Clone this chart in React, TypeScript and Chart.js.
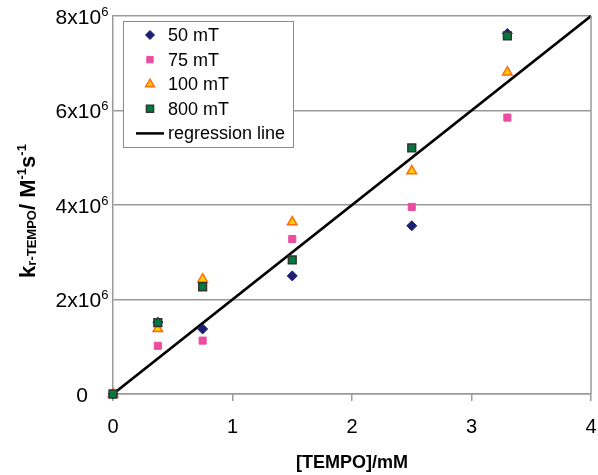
import React, { useEffect, useRef } from 'react';
import { Chart, registerables } from 'chart.js';
import { drawPoint } from 'chart.js/helpers';

Chart.register(...registerables);

// ---- data ----
const xValues = [0, 0.375, 0.75, 1.5, 2.5, 3.3];
const series50mT = [0, 1.52e6, 1.376e6, 2.5e6, 3.56e6, 7.63e6];
const series75mT = [0, 1.02e6, 1.13e6, 3.28e6, 3.96e6, 5.85e6];
const series100mT = [0, 1.38e6, 2.43e6, 3.64e6, 4.72e6, 6.81e6];
const series800mT = [0, 1.51e6, 2.27e6, 2.84e6, 5.21e6, 7.58e6];
const regressionX = [0, 4];
const regressionY = [0, 8e6];

const seriesLabels = ['50 mT', '75 mT', '100 mT', '800 mT', 'regression line'];
const xTicks = [0, 1, 2, 3, 4];
const xTickLabels = ['0', '1', '2', '3', '4'];
const yTicks = [0, 2e6, 4e6, 6e6, 8e6];
const yTickMain = ['0', '2x10', '4x10', '6x10', '8x10'];
const yTickSup = ['', '6', '6', '6', '6'];
const xTitle = '[TEMPO]/mM';

const FONT = "'Liberation Sans', Arial, Helvetica, sans-serif";
const GRAY = '#9a9a9a';

const styles = [
  { pointStyle: 'rectRot', radius: 5, bg: '#1b2072', border: '#1b2072', bw: 1 },
  { pointStyle: 'rect', radius: 5, bg: '#ec4c9f', border: '#ec4c9f', bw: 1 },
  { pointStyle: 'triangle', radius: 5.5, bg: '#ffd000', border: '#ff6a10', bw: 1.5 },
  { pointStyle: 'rect', radius: 5.5, bg: '#007a3d', border: '#333333', bw: 1.5 },
];
const legendRadius = [4.5, 4.5, 5, 5];

const toPts = (xs: number[], ys: number[]) => xs.map((x, i) => ({ x, y: ys[i] }));

const textPlugin = {
  id: 'customText',
  afterDraw(chart: any) {
    const { ctx, chartArea, scales } = chart;
    const xs = scales.x;
    const ys = scales.y;
    ctx.save();

    // right border
    ctx.strokeStyle = GRAY;
    ctx.lineWidth = 1.5;
    ctx.beginPath();
    ctx.moveTo(chartArea.right, chartArea.top);
    ctx.lineTo(chartArea.right, chartArea.bottom);
    ctx.stroke();

    ctx.fillStyle = '#000';
    // x tick labels
    ctx.font = `20px ${FONT}`;
    ctx.textAlign = 'center';
    ctx.textBaseline = 'alphabetic';
    xTicks.forEach((v, i) => {
      ctx.fillText(xTickLabels[i], xs.getPixelForValue(v), chartArea.bottom + 39);
    });

    // x title
    ctx.font = `bold 18px ${FONT}`;
    ctx.fillText(xTitle, (chartArea.left + chartArea.right) / 2, chartArea.bottom + 74);

    // y tick labels
    const cx = chartArea.left - 31;
    yTicks.forEach((v, i) => {
      const py = ys.getPixelForValue(v);
      ctx.font = `21px ${FONT}`;
      const wm = ctx.measureText(yTickMain[i]).width;
      ctx.font = `13px ${FONT}`;
      const wsup = yTickSup[i] ? ctx.measureText(yTickSup[i]).width : 0;
      const start = cx - (wm + wsup) / 2;
      ctx.textAlign = 'left';
      ctx.font = `21px ${FONT}`;
      ctx.fillText(yTickMain[i], start, py + 7.5);
      if (yTickSup[i]) {
        ctx.font = `13px ${FONT}`;
        ctx.fillText(yTickSup[i], start + wm, py - 0.5);
      }
    });

    // y title (rotated with sub/superscripts)
    const segs = [
      { t: 'k', size: 22, dy: 0 },
      { t: 'r-TEMPO', size: 13, dy: 1 },
      { t: '/ M', size: 22, dy: 0 },
      { t: '-1', size: 13, dy: -9 },
      { t: 's', size: 22, dy: 0 },
      { t: '-1', size: 13, dy: -9 },
    ];
    let total = 0;
    segs.forEach((s) => {
      ctx.font = `bold ${s.size}px ${FONT}`;
      total += ctx.measureText(s.t).width;
    });
    ctx.save();
    ctx.translate(35, 211);
    ctx.rotate(-Math.PI / 2);
    let pos = -total / 2;
    ctx.textAlign = 'left';
    segs.forEach((s) => {
      ctx.font = `bold ${s.size}px ${FONT}`;
      ctx.fillText(s.t, pos, s.dy);
      pos += ctx.measureText(s.t).width;
    });
    ctx.restore();

    // legend
    const lx = 123.5, ly = 21.5, lw = 170, lh = 126;
    ctx.fillStyle = '#fff';
    ctx.fillRect(lx, ly, lw, lh);
    ctx.strokeStyle = '#8a8a8a';
    ctx.lineWidth = 1;
    ctx.strokeRect(lx, ly, lw, lh);
    const rowY = (i: number) => 35 + i * 24.6;
    styles.forEach((s, i) => {
      ctx.fillStyle = s.bg;
      ctx.strokeStyle = s.border;
      ctx.lineWidth = s.bw;
      drawPoint(ctx, { pointStyle: s.pointStyle, radius: legendRadius[i], rotation: 0, borderWidth: s.bw } as any, 150, rowY(i));
    });
    ctx.strokeStyle = '#000';
    ctx.lineWidth = 2.5;
    ctx.beginPath();
    ctx.moveTo(136, rowY(4));
    ctx.lineTo(164, rowY(4));
    ctx.stroke();
    ctx.fillStyle = '#000';
    ctx.font = `18px ${FONT}`;
    ctx.textAlign = 'left';
    ctx.textBaseline = 'middle';
    seriesLabels.forEach((lab, i) => {
      ctx.fillText(lab, 168, rowY(i) + 1);
    });
    ctx.restore();
  },
};

export default function App() {
  const ref = useRef<HTMLCanvasElement | null>(null);
  useEffect(() => {
    document.body.style.margin = '0';
    const canvas = ref.current;
    if (!canvas) return;
    const seriesData = [series50mT, series75mT, series100mT, series800mT];
    const orders = [4, 3, 2, 1];
    const datasets: any[] = seriesData.map((ys, i) => ({
      label: seriesLabels[i],
      data: toPts(xValues, ys),
      pointStyle: styles[i].pointStyle,
      pointRadius: styles[i].radius,
      backgroundColor: styles[i].bg,
      borderColor: styles[i].border,
      borderWidth: styles[i].bw,
      pointBorderWidth: styles[i].bw,
      showLine: false,
      clip: false,
      order: orders[i],
    }));
    datasets.push({
      label: seriesLabels[4],
      data: toPts(regressionX, regressionY),
      showLine: true,
      borderColor: '#000',
      borderWidth: 2.8,
      pointRadius: 0,
      clip: false,
      order: 5,
    });
    const chart = new Chart(canvas, {
      type: 'scatter',
      data: { datasets },
      options: {
        responsive: false,
        animation: false,
        devicePixelRatio: 1,
        layout: { padding: { top: 16, right: 7, left: 0, bottom: 0 } },
        plugins: { legend: { display: false }, tooltip: { enabled: false } },
        scales: {
          x: {
            type: 'linear',
            min: 0,
            max: 4,
            ticks: { display: false, stepSize: 1 },
            grid: { drawOnChartArea: false, drawTicks: true, tickLength: 7, color: GRAY, lineWidth: 1.5 },
            border: { color: GRAY, width: 1.5 },
            afterFit: (s: any) => { s.height = 81; },
          },
          y: {
            type: 'linear',
            min: 0,
            max: 8e6,
            ticks: { display: false, stepSize: 2e6 },
            grid: { color: GRAY, lineWidth: 1.5, drawTicks: false, tickLength: 0 },
            border: { color: GRAY, width: 1.5 },
            afterFit: (s: any) => { s.width = 113; },
          },
        },
      } as any,
      plugins: [textPlugin],
    });
    return () => chart.destroy();
  }, []);
  return (
    <div style={{ width: 598, height: 475 }}>
      <canvas ref={ref} width={598} height={475} />
    </div>
  );
}
